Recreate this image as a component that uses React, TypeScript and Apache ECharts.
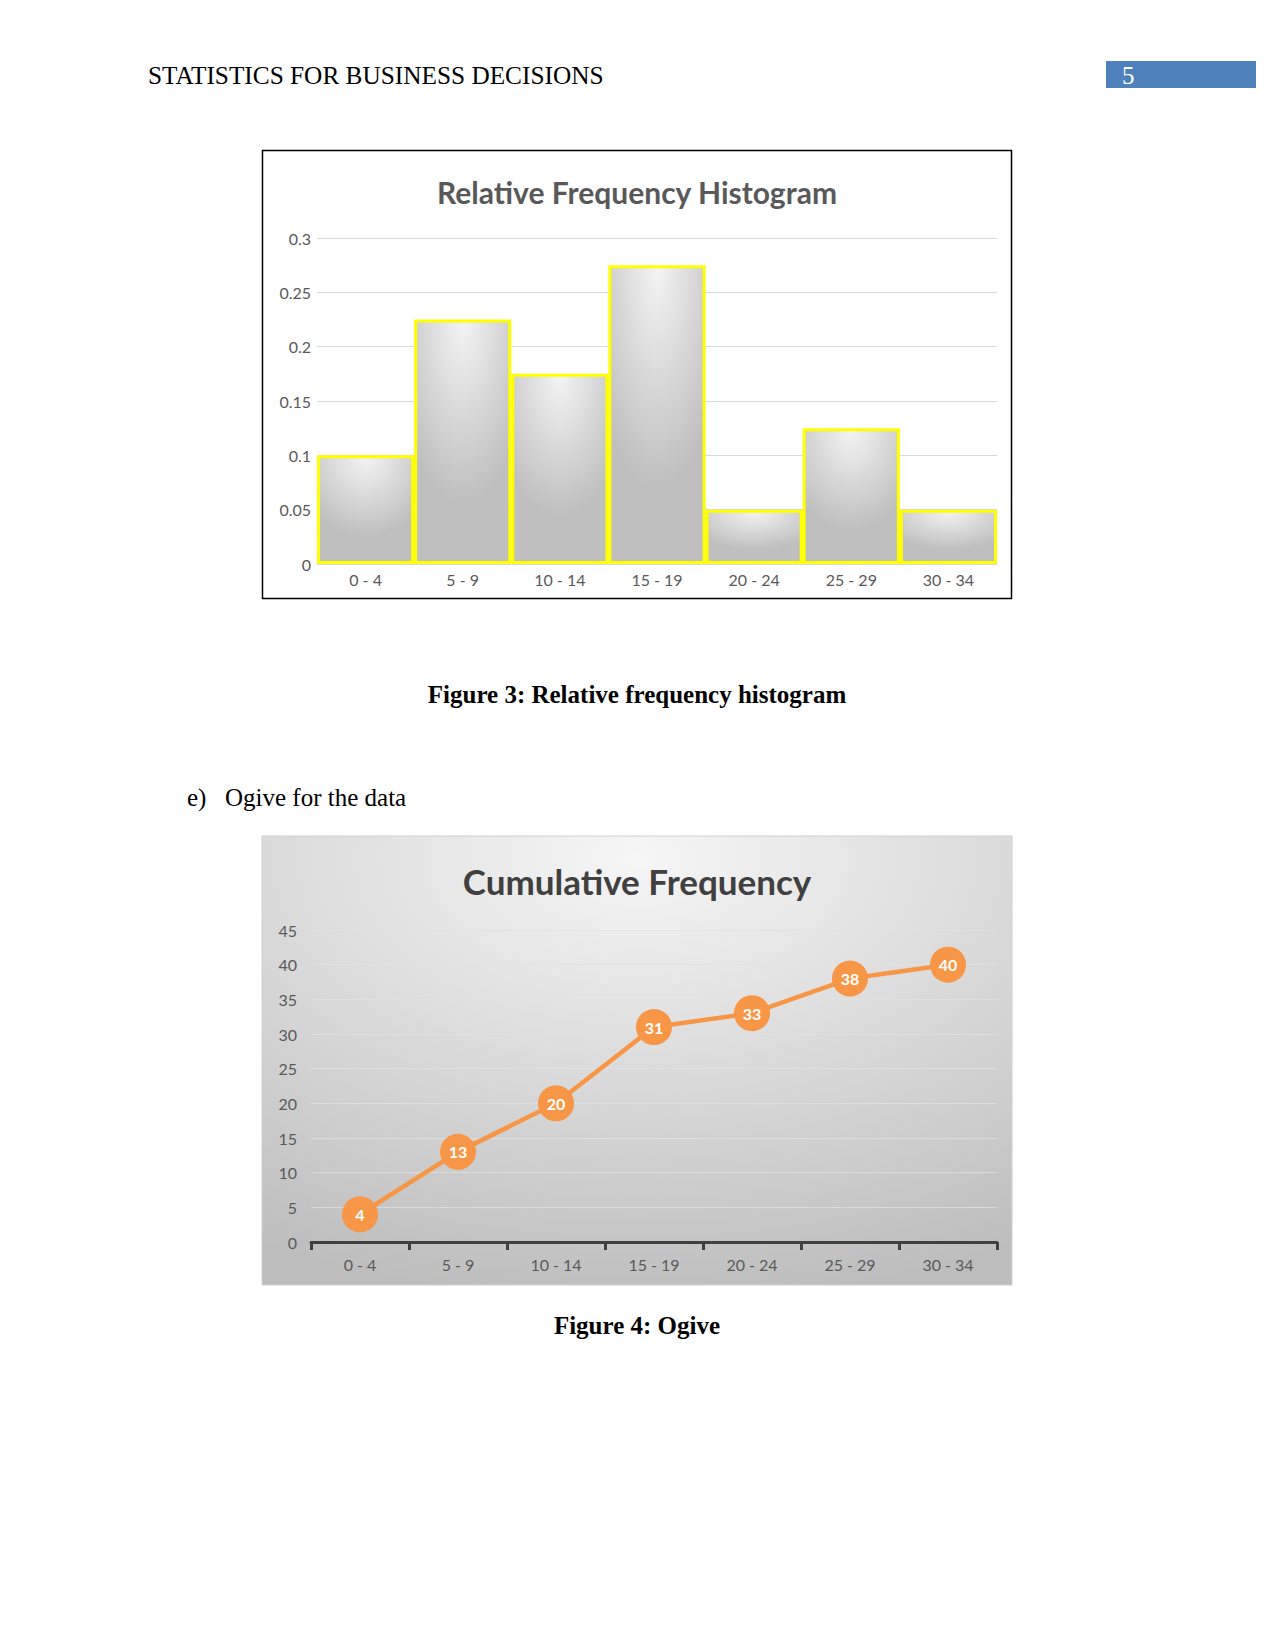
import React, { useEffect, useRef } from "react";
import * as echarts from "echarts";

const categories = ["0 - 4", "5 - 9", "10 - 14", "15 - 19", "20 - 24", "25 - 29", "30 - 34"];
const relativeFrequency = [0.1, 0.225, 0.175, 0.275, 0.05, 0.125, 0.05];
const cumulativeFrequency = [4, 13, 20, 31, 33, 38, 40];
const relTicks = [0, 0.05, 0.1, 0.15, 0.2, 0.25, 0.3];
const cumTicks = [0, 5, 10, 15, 20, 25, 30, 35, 40, 45];

const headerText = "STATISTICS FOR BUSINESS DECISIONS";
const pageNumber = "5";
const title1 = "Relative Frequency Histogram";
const title2 = "Cumulative Frequency";
const caption1 = "Figure 3: Relative frequency histogram";
const caption2 = "Figure 4: Ogive";

const SANS = "Lato, 'Open Sans', sans-serif";
const SERIF = "'Liberation Serif', 'DejaVu Serif', serif";

export default function App() {
  const ref = useRef<HTMLDivElement>(null);
  useEffect(() => {
    if (!ref.current) return;
    const chart = echarts.init(ref.current, undefined, { renderer: "svg" });
    const option: any = {
      animation: false,
      backgroundColor: "#ffffff",
      graphic: [
        // header
        { type: "text", x: 148, y: 75, style: { text: headerText, font: `25.3px ${SERIF}`, fill: "#000", verticalAlign: "middle" } },
        { type: "rect", shape: { x: 1106, y: 61, width: 150, height: 27 }, style: { fill: "#4F81BD" } },
        { type: "text", x: 1122, y: 75, style: { text: pageNumber, font: `25px ${SERIF}`, fill: "#ffffff", verticalAlign: "middle" } },
        // chart 1 border
        { type: "rect", z: 10, shape: { x: 262.5, y: 150.5, width: 749, height: 448 }, style: { fill: "none", stroke: "#000", lineWidth: 1.5 } },
        { type: "text", x: 637, y: 192, style: { text: title1, font: `bold 30px ${SANS}`, fill: "#595959", align: "center", verticalAlign: "middle" } },
        // captions
        { type: "text", x: 637, y: 694, style: { text: caption1, font: `bold 25px ${SERIF}`, fill: "#000", align: "center", verticalAlign: "middle" } },
        { type: "text", x: 187, y: 797, style: { text: "e)", font: `25px ${SERIF}`, fill: "#000", verticalAlign: "middle" } },
        { type: "text", x: 225, y: 797, style: { text: "Ogive for the data", font: `25px ${SERIF}`, fill: "#000", verticalAlign: "middle" } },
        // chart 2 background
        {
          type: "rect",
          z: -10,
          shape: { x: 262, y: 836, width: 750, height: 449 },
          style: {
            fill: new echarts.graphic.RadialGradient(0.5, 0.05, 1, [
              { offset: 0, color: "#f6f6f6" },
              { offset: 1, color: "#bdbdbd" },
            ]),
            stroke: "#d0d0d0",
            lineWidth: 1,
          },
        },
        { type: "text", x: 637, y: 881, style: { text: title2, font: `bold 35px ${SANS}`, fill: "#404040", align: "center", verticalAlign: "middle" } },
        { type: "text", x: 637, y: 1325, style: { text: caption2, font: `bold 25px ${SERIF}`, fill: "#000", align: "center", verticalAlign: "middle" } },
      ],
      grid: [
        { left: 317, top: 238, width: 680, height: 326 },
        { left: 311, top: 930, width: 686, height: 312 },
      ],
      xAxis: [
        {
          type: "category",
          gridIndex: 0,
          data: categories,
          axisLine: { show: true, lineStyle: { color: "#d9d9d9" } },
          axisTick: { show: false },
          axisLabel: { color: "#595959", fontSize: 16, fontFamily: SANS, margin: 7 },
        },
        {
          type: "category",
          gridIndex: 1,
          data: categories,
          axisLine: { show: true, lineStyle: { color: "#404040", width: 3 } },
          axisTick: { show: true, alignWithLabel: false, length: 8, lineStyle: { color: "#404040", width: 3 } },
          axisLabel: { color: "#595959", fontSize: 16, fontFamily: SANS, margin: 14 },
        },
      ],
      yAxis: [
        {
          type: "value",
          gridIndex: 0,
          min: relTicks[0],
          max: relTicks[relTicks.length - 1],
          interval: relTicks[1] - relTicks[0],
          axisLine: { show: false },
          axisTick: { show: false },
          axisLabel: { color: "#595959", fontSize: 16, fontFamily: SANS, margin: 6 },
          splitLine: { lineStyle: { color: "#d9d9d9", width: 1 } },
        },
        {
          type: "value",
          gridIndex: 1,
          min: cumTicks[0],
          max: cumTicks[cumTicks.length - 1],
          interval: cumTicks[1] - cumTicks[0],
          axisLine: { show: false },
          axisTick: { show: false },
          axisLabel: { color: "#595959", fontSize: 16, fontFamily: SANS, margin: 14 },
          splitLine: { lineStyle: { color: "rgba(225,225,225,0.75)", width: 1 } },
        },
      ],
      series: [
        {
          type: "bar",
          xAxisIndex: 0,
          yAxisIndex: 0,
          data: relativeFrequency,
          barCategoryGap: "0%",
          itemStyle: {
            color: new echarts.graphic.RadialGradient(0.5, 0.0, 0.75, [
              { offset: 0, color: "#f4f4f4" },
              { offset: 1, color: "#bfbfbf" },
            ]),
            borderColor: "#ffff00",
            borderWidth: 3,
          },
        },
        {
          type: "line",
          xAxisIndex: 1,
          yAxisIndex: 1,
          data: cumulativeFrequency,
          symbol: "circle",
          symbolSize: 36,
          lineStyle: { color: "#F79646", width: 4.5 },
          itemStyle: { color: "#F79646" },
          label: {
            show: true,
            position: "inside",
            color: "#ffffff",
            fontWeight: "bold",
            fontSize: 16,
            fontFamily: SANS,
          },
        },
      ],
    };
    chart.setOption(option);
    return () => chart.dispose();
  }, []);
  return (
    <div
      ref={ref}
      style={{ position: "absolute", left: 0, top: 0, width: 1275, height: 1651 }}
    />
  );
}
